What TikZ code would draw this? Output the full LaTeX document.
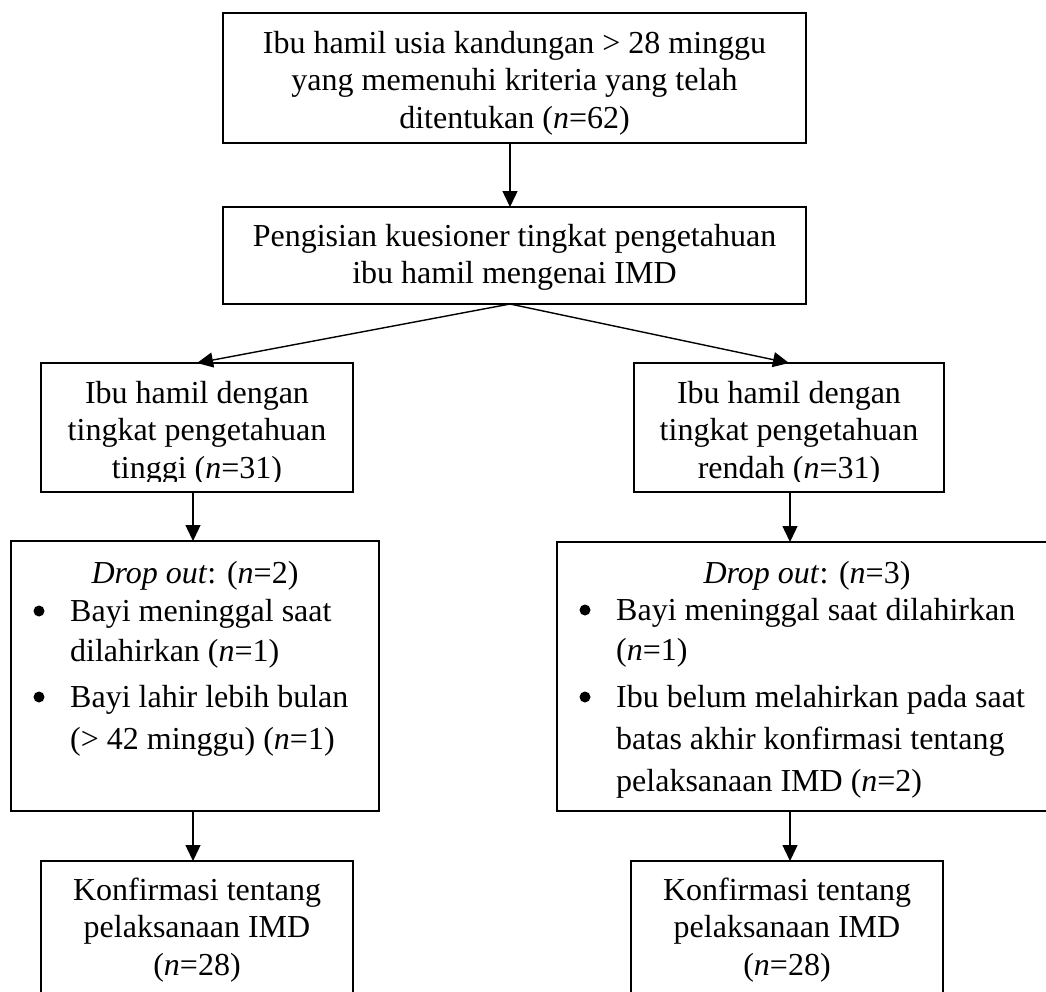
\documentclass[tikz,border=0pt]{standalone}
\usepackage{fontspec}
\setmainfont{Liberation Serif}
\usetikzlibrary{arrows.meta}
\newcommand\mylines[1]{\begin{tabular}[t]{@{}c@{}}#1\end{tabular}}
\begin{document}
\begin{tikzpicture}[x=1pt,y=-1pt,
  box/.style={draw, line width=1.8pt, inner sep=0pt, outer sep=0pt, anchor=north west},
  t/.style={font=\fontsize{32}{37.5}\selectfont, inner sep=0pt, anchor=base},
  tl/.style={t, anchor=base west},
  arr/.style={line width=1.4pt, -{Triangle[length=16pt,width=15pt]}},
  dot/.style={circle, fill, inner sep=0pt, minimum size=11pt}]
\useasboundingbox (0,0) rectangle (1046,991);
% boxes
\node[box, minimum width=583pt, minimum height=130pt] (b1) at (223,13) {};
\node[box, minimum width=583pt, minimum height=97pt] (b2) at (223,207) {};
\node[box, minimum width=312pt, minimum height=129pt] (b3) at (41,363) {};
\node[box, minimum width=310pt, minimum height=129pt] (b4) at (634,363) {};
\node[box, minimum width=368pt, minimum height=270pt] (b5) at (11,541) {};
\node[box, minimum width=500pt, minimum height=269pt] (b6) at (557,542) {};
\node[box, minimum width=312pt, minimum height=160pt] (b7) at (41,861) {};
\node[box, minimum width=312pt, minimum height=160pt] (b8) at (631,861) {};
% texts
\node[t] (t1) at (514.5,53) {\mylines{Ibu hamil usia kandungan > 28 minggu\\ yang memenuhi kriteria yang telah\\ ditentukan (\textit{n}=62)}};
\node[t] (t2) at (514.5,246) {\mylines{Pengisian kuesioner tingkat pengetahuan\\ ibu hamil mengenai IMD}};
\begin{scope}
\clip (41,363) rectangle (353,481);
\node[t] (t3) at (197,403) {\mylines{Ibu hamil dengan\\ tingkat pengetahuan\\ tinggi (\textit{n}=31)}};
\end{scope}
\begin{scope}
\clip (634,363) rectangle (944,481);
\node[t] (t4) at (789,403) {\mylines{Ibu hamil dengan\\ tingkat pengetahuan\\ rendah (\textit{n}=31)}};
\end{scope}
% left drop out
\node[t] (h5) at (195,583) {\textit{Drop out}: (\textit{n}=2)};
\node[dot] (d51) at (39,611) {};
\node[tl] (l51) at (70,621) {Bayi meninggal saat};
\node[tl] (l52) at (70,661) {dilahirkan (\textit{n}=1)};
\node[dot] (d52) at (39,697) {};
\node[tl] (l53) at (70,707) {Bayi lahir lebih bulan};
\node[tl] (l54) at (70,749) {(> 42 minggu) (\textit{n}=1)};
% right drop out
\node[t] (h6) at (807,583) {\textit{Drop out}: (\textit{n}=3)};
\node[dot] (d61) at (585,610) {};
\node[tl] (l61) at (616,620) {Bayi meninggal saat dilahirkan};
\node[tl] (l62) at (616,660) {(\textit{n}=1)};
\node[dot] (d62) at (585,697) {};
\node[tl] (l63) at (616,707) {Ibu belum melahirkan pada saat};
\node[tl] (l64) at (616,749) {batas akhir konfirmasi tentang};
\node[tl] (l65) at (616,791) {pelaksanaan IMD (\textit{n}=2)};
% bottom
\node[t] (t7) at (197,900) {\mylines{Konfirmasi tentang\\ pelaksanaan IMD\\ (\textit{n}=28)}};
\node[t] (t8) at (787,900) {\mylines{Konfirmasi tentang\\ pelaksanaan IMD\\ (\textit{n}=28)}};
% connectors
\coordinate (ax) at (510,0);
\coordinate (lx) at (193,0);
\coordinate (rx) at (790,0);
\coordinate (apx) at (b2.south -| ax);
\draw[arr] (b1.south -| ax) -- (b2.north -| ax);
\draw[arr] (apx) -- (b3.north);
\draw[arr] (apx) -- (b4.north);
\draw[arr] (b3.south -| lx) -- (b5.north -| lx);
\draw[arr] (b4.south -| rx) -- (b6.north -| rx);
\draw[arr] (b5.south -| lx) -- (b7.north -| lx);
\draw[arr] (b6.south -| rx) -- (b8.north -| rx);
\end{tikzpicture}
\end{document}
